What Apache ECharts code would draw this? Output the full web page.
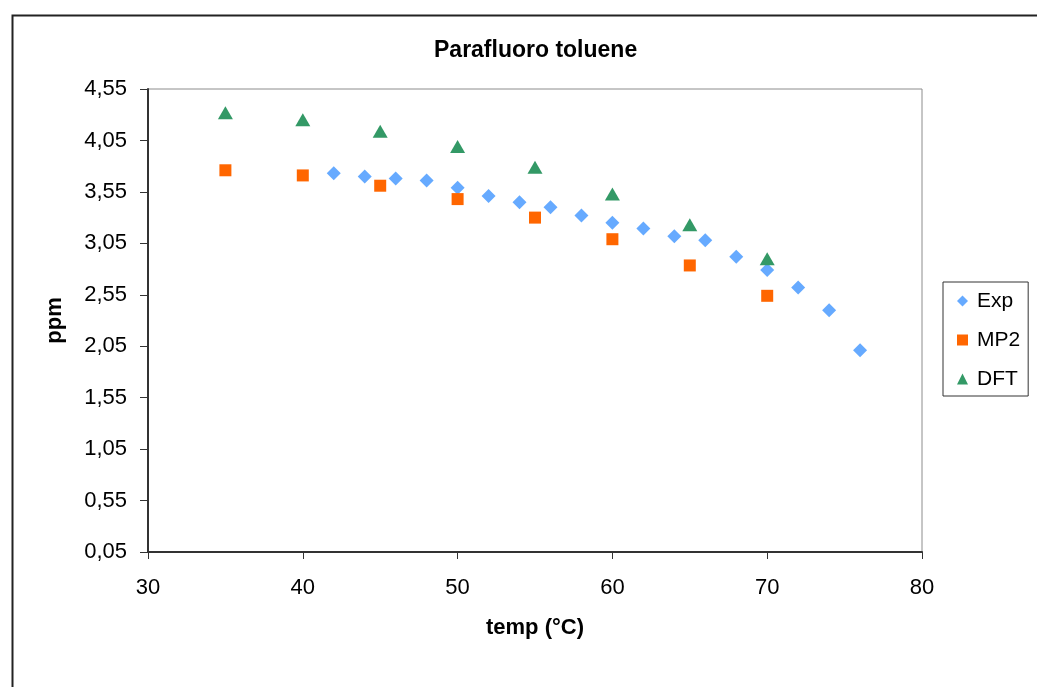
<!DOCTYPE html>
<html>
<head>
<meta charset="utf-8">
<script src="https://cdn.jsdelivr.net/npm/echarts@6/dist/echarts.min.js"></script>
<style>
  html, body { margin: 0; padding: 0; background: #fff; }
  #chart { width: 1037px; height: 687px; }
</style>
</head>
<body>
<div id="chart"></div>
<script>
// Chemical shift (ppm) of parafluoro toluene against temperature (°C)
const expTemp = [42, 44, 46, 48, 50, 52, 54, 56, 58, 60, 62, 64, 66, 68, 70, 72, 74, 76];
const expPpm  = [3.73, 3.70, 3.68, 3.66, 3.59, 3.51, 3.45, 3.40, 3.32, 3.25, 3.195, 3.12, 3.08, 2.92, 2.79, 2.62, 2.40, 2.01];

const mp2Temp = [35, 40, 45, 50, 55, 60, 65, 70];
const mp2Ppm  = [3.76, 3.71, 3.61, 3.48, 3.30, 3.09, 2.835, 2.54];

const dftTemp = [35, 40, 45, 50, 55, 60, 65, 70];
const dftPpm  = [4.32, 4.25, 4.14, 3.99, 3.79, 3.53, 3.23, 2.90];

const xTicks = { min: 30, max: 80, step: 10 };
const yTicks = { min: 0.05, max: 4.55, step: 0.5 };

const pairs = (xs, ys) => xs.map((x, i) => [x, ys[i]]);

const FONT = '"Liberation Sans", Arial, sans-serif';
const AXIS_COLOR = '#333333';

const chart = echarts.init(document.getElementById('chart'), null, { renderer: 'canvas' });

chart.setOption({
  backgroundColor: '#ffffff',
  animation: false,
  textStyle: { fontFamily: FONT, color: '#000' },
  title: {
    text: 'Parafluoro toluene',
    left: 429,
    top: 34,
    textStyle: { fontFamily: FONT, fontSize: 23, fontWeight: 'bold', color: '#000' }
  },
  graphic: [
    {
      type: 'rect',
      left: 10, top: 13,
      shape: { x: 0, y: 0, width: 1200, height: 900 },
      style: { fill: null, stroke: '#222', lineWidth: 2 },
      silent: true,
      z: -1
    }
  ],
  grid: {
    left: 148, top: 89, right: 115, bottom: 135,
    show: true,
    backgroundColor: '#ffffff',
    borderColor: '#8c8c8c',
    borderWidth: 1
  },
  legend: {
    orient: 'vertical',
    left: 943, top: 282,
    padding: [8, 8, 6, 14],
    itemWidth: 11, itemHeight: 11,
    itemGap: 17,
    borderColor: '#333',
    borderWidth: 1,
    textStyle: { fontFamily: FONT, fontSize: 21, lineHeight: 22, color: '#000', padding: [0, 0, 0, 4] },
    data: ['Exp', 'MP2', 'DFT']
  },
  xAxis: {
    type: 'value',
    min: xTicks.min, max: xTicks.max, interval: xTicks.step,
    name: 'temp (°C)',
    nameLocation: 'middle',
    nameGap: 65,
    nameTextStyle: { fontFamily: FONT, fontSize: 22, fontWeight: 'bold', color: '#000' },
    axisLine: { show: true, onZero: false, lineStyle: { color: AXIS_COLOR, width: 2 } },
    axisTick: { show: true, length: 7, lineStyle: { color: AXIS_COLOR, width: 1 } },
    axisLabel: { margin: 25, fontFamily: FONT, fontSize: 22, color: '#000' },
    splitLine: { show: false }
  },
  yAxis: {
    type: 'value',
    min: yTicks.min, max: yTicks.max, interval: yTicks.step,
    name: 'ppm',
    nameLocation: 'middle',
    nameGap: 82,
    nameRotate: 90,
    nameTextStyle: { fontFamily: FONT, fontSize: 22, fontWeight: 'bold', color: '#000' },
    axisLine: { show: true, onZero: false, lineStyle: { color: AXIS_COLOR, width: 2 } },
    axisTick: { show: true, length: 8, lineStyle: { color: AXIS_COLOR, width: 1 } },
    axisLabel: {
      margin: 21, fontFamily: FONT, fontSize: 22, color: '#000',
      formatter: v => v.toFixed(2).replace('.', ',')
    },
    splitLine: { show: false }
  },
  series: [
    {
      name: 'Exp', type: 'scatter',
      symbol: 'diamond', symbolSize: [14, 14],
      itemStyle: { color: '#66AAFF', opacity: 1 },
      data: pairs(expTemp, expPpm)
    },
    {
      name: 'MP2', type: 'scatter',
      symbol: 'rect', symbolSize: [12, 12],
      itemStyle: { color: '#FF6600', opacity: 1 },
      data: pairs(mp2Temp, mp2Ppm)
    },
    {
      name: 'DFT', type: 'scatter',
      symbol: 'triangle', symbolSize: [15, 13],
      itemStyle: { color: '#339966', opacity: 1 },
      data: pairs(dftTemp, dftPpm)
    }
  ]
});
</script>
</body>
</html>
